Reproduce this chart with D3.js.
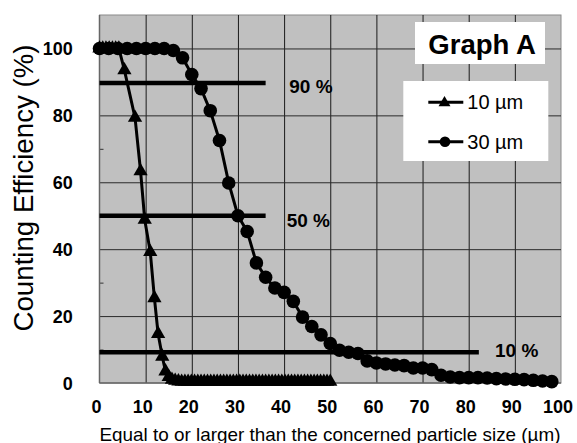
<!DOCTYPE html>
<html>
<head>
<meta charset="UTF-8" />
<title>Graph A</title>
<script src="https://d3js.org/d3.v7.min.js"></script>
<style>
  body { margin: 0; background: #fff; }
  svg { display: block; font-family: "Liberation Sans", Arial, sans-serif; }
</style>
</head>
<body>
<svg id="chart" width="577" height="443"></svg>
<script>
// particle size (um) and counting efficiency (%) for the 10 um series
var sizes10 = [0, 0.7, 1.4, 2.1, 2.8, 3.5, 4.2, 5.4, 7.7, 8.9, 9.8, 11.0, 11.9, 12.7, 13.6, 14.3, 15.0, 15.7,
  16.4, 17.1, 17.8, 18.5, 19.2, 19.9, 20.6, 21.3, 22, 22.7, 23.4, 24.1, 24.8, 25.5, 26.2, 26.9, 27.6, 28.3,
  29, 29.7, 30.4, 31.1, 31.8, 32.5, 33.2, 33.9, 34.6, 35.3, 36, 36.7, 37.4, 38.1, 38.8, 39.5, 40.2, 40.9,
  41.6, 42.3, 43, 43.7, 44.4, 45.1, 45.8, 46.5, 47.2, 47.9, 48.6, 49.3, 50];
var eff10 = [100, 100, 100, 100, 100, 100, 100, 93.5, 79.3, 63.3, 48.8, 39.2, 25.4, 14.7, 7.9, 3.5, 1.8, 1.0,
  0.7, 0.5, 0.4, 0.4, 0.4, 0.4, 0.4, 0.4, 0.4, 0.4, 0.4, 0.4, 0.4, 0.4, 0.4, 0.4, 0.4, 0.4,
  0.4, 0.4, 0.4, 0.4, 0.4, 0.4, 0.4, 0.4, 0.4, 0.4, 0.4, 0.4, 0.4, 0.4, 0.4, 0.4, 0.4, 0.4,
  0.4, 0.4, 0.4, 0.4, 0.4, 0.4, 0.4, 0.4, 0.4, 0.4, 0.4, 0.4, 0.4];

// 30 um series
var sizes30 = [0, 2, 4, 6, 8, 10, 12, 14, 16, 18, 20, 22, 24, 26, 28, 30, 32, 34, 36, 38, 40, 42, 44, 46, 48,
  50, 52, 54, 56, 58, 60, 62, 64, 66, 68, 70, 72, 74, 76, 78, 80, 82, 84, 86, 88, 90, 92, 94, 96, 98];
var eff30 = [100, 100, 100, 100, 100, 100, 100, 100, 99.4, 97.2, 92.2, 88, 81.4, 72.5, 59.8, 50, 45.3, 35.9,
  31.6, 28.4, 27.1, 24.4, 19.7, 16.9, 14.4, 11.8, 9.8, 9.2, 8.8, 6.6, 6.0, 5.7, 5.4, 5.2, 4.5, 4.5, 4.0,
  2.3, 1.8, 1.6, 1.6, 1.6, 1.5, 1.3, 1.2, 1.1, 1.0, 0.8, 0.6, 0.4];

var xTicks = [0, 10, 20, 30, 40, 50, 60, 70, 80, 90, 100];
var yTicks = [0, 20, 40, 60, 80, 100];
var yMinorTicks = [10, 30, 50, 70, 90];

// reference levels: level, end of line (um), label
var refLevels = [89.7, 50, 9.2];
var refEnds = [36, 36, 82.2];
var refLabels = ["90 %", "50 %", "10 %"];

var legendNames = ["10 \u00b5m", "30 \u00b5m"];

var width = 577, height = 443;
var margin = { top: 15, right: 16, bottom: 60, left: 99.5 };

var svg = d3.select("#chart");

var x = d3.scaleLinear().domain([0, 100]).range([margin.left, width - margin.right]);
var y = d3.scaleLinear().domain([0, 110]).range([height - margin.bottom, margin.top]);

// plot background
svg.append("rect")
  .attr("x", x(0)).attr("y", y(110))
  .attr("width", x(100) - x(0)).attr("height", y(0) - y(110))
  .attr("fill", "#c0c0c0")
  .attr("stroke", "#8a8a8a")
  .attr("stroke-width", 1);

// grid
svg.append("g")
  .attr("transform", "translate(0," + y(0) + ")")
  .call(d3.axisBottom(x).tickValues(xTicks.slice(1, -1)).tickSize(-(y(0) - y(110))).tickFormat(""))
  .call(function (g) { g.select(".domain").remove(); })
  .selectAll("line").attr("stroke", "#1a1a1a").attr("stroke-width", 1);

svg.append("g")
  .attr("transform", "translate(" + x(0) + ",0)")
  .call(d3.axisLeft(y).tickValues(yTicks.slice(1)).tickSize(-(x(100) - x(0))).tickFormat(""))
  .call(function (g) { g.select(".domain").remove(); })
  .selectAll("line").attr("stroke", "#2a2a2a").attr("stroke-width", 1);

// minor ticks on the left axis
svg.append("g")
  .attr("transform", "translate(" + x(0) + ",0)")
  .call(d3.axisRight(y).tickValues(yMinorTicks).tickSize(4).tickFormat(""))
  .call(function (g) { g.select(".domain").remove(); })
  .selectAll("line").attr("stroke", "#333");

// left and bottom edges
svg.append("line").attr("x1", x(0)).attr("x2", x(0)).attr("y1", y(0)).attr("y2", y(110))
  .attr("stroke", "#666").attr("stroke-width", 1.5);
svg.append("line").attr("x1", x(0)).attr("x2", x(100)).attr("y1", y(0)).attr("y2", y(0))
  .attr("stroke", "#666").attr("stroke-width", 1.5);

// tick labels
var labels = svg.append("g").attr("font-size", 18).attr("font-weight", "bold").attr("fill", "#000");
labels.selectAll(".ylab").data(yTicks).enter().append("text")
  .attr("class", "ylab")
  .attr("x", 72.7).attr("y", function (v) { return y(v) + 6.5; })
  .attr("text-anchor", "end")
  .text(function (v) { return v; });
labels.selectAll(".xlab").data(xTicks).enter().append("text")
  .attr("class", "xlab")
  .attr("x", function (v) { return x(v) - 3; }).attr("y", 413)
  .attr("text-anchor", "middle")
  .text(function (v) { return v; });

// axis titles
svg.append("text")
  .attr("x", x(0)).attr("y", 440.5)
  .attr("font-size", 19)
  .attr("textLength", 461).attr("lengthAdjust", "spacingAndGlyphs")
  .text("Equal to or larger than the concerned particle size (\u00b5m)");

svg.append("text")
  .attr("transform", "translate(33,188) rotate(-90)")
  .attr("text-anchor", "middle")
  .attr("font-size", 27)
  .attr("textLength", 287).attr("lengthAdjust", "spacingAndGlyphs")
  .text("Counting Efficiency (%)");

// reference lines
refLevels.forEach(function (v, i) {
  svg.append("line")
    .attr("x1", x(0)).attr("x2", x(refEnds[i]))
    .attr("y1", y(v)).attr("y2", y(v))
    .attr("stroke", "#000").attr("stroke-width", 4.5);
});
var refPos = [[289.3, 93.3], [286.7, 226.7], [495, 357.3]];
refLabels.forEach(function (t, i) {
  svg.append("text")
    .attr("x", refPos[i][0]).attr("y", refPos[i][1])
    .attr("font-size", 19).attr("font-weight", "bold")
    .text(t);
});

// series
var line = d3.line().x(function (d) { return x(d[0]); }).y(function (d) { return y(d[1]); });
var data10 = sizes10.map(function (s, i) { return [s, eff10[i]]; });
var data30 = sizes30.map(function (s, i) { return [s, eff30[i]]; });

svg.append("path").datum(data30).attr("d", line)
  .attr("fill", "none").attr("stroke", "#000").attr("stroke-width", 3);
svg.append("g").selectAll("circle").data(data30).enter().append("circle")
  .attr("cx", function (d) { return x(d[0]); })
  .attr("cy", function (d) { return y(d[1]); })
  .attr("r", 6.8)
  .attr("fill", "#000");

var tri = d3.symbol().type(d3.symbolTriangle).size(88);
svg.append("path").datum(data10).attr("d", line)
  .attr("fill", "none").attr("stroke", "#000").attr("stroke-width", 3);
svg.append("g").selectAll("path").data(data10).enter().append("path")
  .attr("d", tri)
  .attr("transform", function (d) { return "translate(" + x(d[0]) + "," + y(d[1]) + ")"; })
  .attr("fill", "#000");

// title box
svg.append("rect").attr("x", 415).attr("y", 22).attr("width", 130).attr("height", 42).attr("fill", "#fff");
svg.append("text")
  .attr("x", 428.3).attr("y", 54)
  .attr("font-size", 27).attr("font-weight", "bold")
  .attr("textLength", 107.7).attr("lengthAdjust", "spacingAndGlyphs")
  .text("Graph A");

// legend
svg.append("rect").attr("x", 403.3).attr("y", 81).attr("width", 145).attr("height", 80).attr("fill", "#fff");
var legendY = [102.3, 141.7];
legendNames.forEach(function (name, i) {
  var g = svg.append("g");
  g.append("line").attr("x1", 428.3).attr("x2", 463.3).attr("y1", legendY[i]).attr("y2", legendY[i])
    .attr("stroke", "#000").attr("stroke-width", 3);
  if (i === 0) {
    g.append("path").attr("d", d3.symbol().type(d3.symbolTriangle).size(62))
      .attr("transform", "translate(444.5," + (legendY[i] + 0.5) + ")").attr("fill", "#000");
  } else {
    g.append("circle").attr("cx", 445).attr("cy", legendY[i]).attr("r", 5.3).attr("fill", "#000");
  }
  g.append("text")
    .attr("x", 467.3).attr("y", legendY[i] + 7)
    .attr("font-size", 20)
    .text(name);
});
</script>
</body>
</html>
